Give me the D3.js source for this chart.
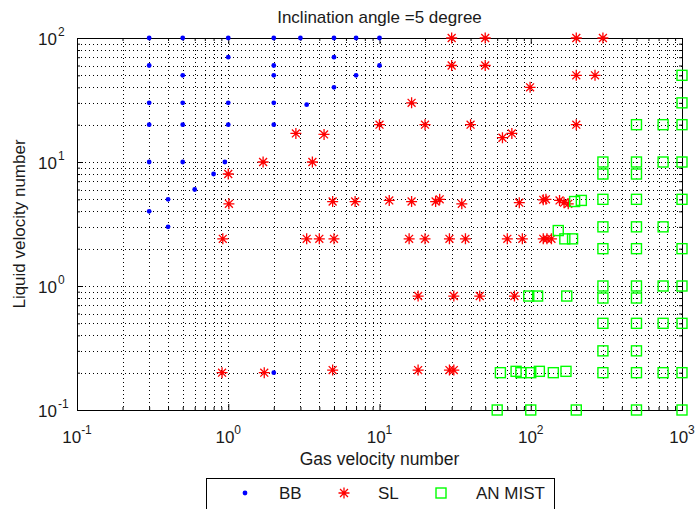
<!DOCTYPE html>
<html>
<head>
<meta charset="utf-8">
<script src="https://cdn.jsdelivr.net/npm/d3@7/dist/d3.min.js"></script>
<style>
body{margin:0;background:#fff}
text{font-family:"Liberation Sans",Arial,sans-serif;fill:#1a1a1a}
</style>
</head>
<body>
<svg id="chart" width="698" height="509"></svg>
<script>
// flow pattern points [gas velocity number, liquid velocity number]
var bbPoints = [[0.3,100],[0.3,60],[0.3,30],[0.3,20],[0.3,10],[0.3,4],
  [0.4,5],[0.4,3],[0.5,100],[0.5,50],[0.5,30],[0.5,20],[0.5,10],
  [0.6,6],[0.8,8],[0.95,10],[1,100],[1,70],[1,30],[1,20],
  [2,100],[2,60],[2,50],[2,30],[2,20],[2,0.2],[3,100],[3.3,29],
  [5,100],[5,70],[5,40],[7,100],[7,50],[10,100],[10,60]];
var slPoints = [[0.92,2.4],[0.91,0.2],[1,8],[1.01,4.6],[1.7,10],[1.73,0.2],
  [2.8,17],[3.6,10],[4.3,16.7],[3.3,2.4],[4,2.4],[5,2.4],
  [4.9,4.8],[6.9,4.8],[11.6,4.9],[16.3,4.8],[23.5,4.8],[25,5],[35,4.6],[4.9,0.21],
  [10,20],[16.3,30],[20,20],[40,20],
  [15.7,2.4],[20,2.4],[29,2.4],[37,2.4],[70,2.4],[88,2.4],[121,2.4],[128,2.4],[137,2.4],
  [18,0.83],[31,0.83],[46,0.83],[78,0.83],[18,0.21],[29,0.21],[31,0.21],
  [30,100],[50,100],[200,100],[300,100],[30,60],[50,60],
  [65,15.7],[75,17],[99,40],
  [84,4.7],[121,4.95],[126,5],[155,4.9],[166,4.7],[177,4.6],
  [200,50],[266,50],[200,20]];
var mistPoints = [[60,0.1],[100,0.1],[200,0.1],[500,0.1],[1000,0.1],
  [63,0.2],[80,0.205],[86,0.2],[100,0.2],[114,0.205],[141,0.2],[171,0.205],
  [300,0.2],[500,0.2],[750,0.2],[1000,0.2],
  [300,0.3],[500,0.3],[300,0.5],[500,0.5],[750,0.5],[1000,0.5],
  [97,0.83],[111,0.83],[173,0.83],[300,0.8],[500,0.8],
  [300,1],[500,1],[750,1],[1000,1],
  [152,2.8],[168,2.4],[189,2.4],[300,2],[500,2],[1000,2],
  [300,3],[500,3],[750,3],
  [195,4.8],[216,4.9],[300,5],[500,5],[1000,5],
  [300,8],[500,8],[300,10],[500,10],[750,10],[1000,10],
  [500,20],[750,20],[1000,20],[1000,30],[1000,50]];

var xMajor = [0.1,1,10,100,1000];
var xExp = ["-1","0","1","2","3"];
var yMajor = [0.1,1,10,100];
var yExp = ["-1","0","1","2"];
var legendNames = ["BB","SL","AN MIST"];
var titleText = "Inclination angle =5 degree";
var xLabel = "Gas velocity number";
var yLabel = "Liquid velocity number";

var L = 77, R = 682, T = 38, B = 410;
var svg = d3.select("#chart");
var x = d3.scaleLog().domain([0.1,1000]).range([L,R]);
var y = d3.scaleLog().domain([0.1,100]).range([B,T]);

function minors(lo, hi){
  var out = [];
  for (var e = lo; e < hi; e++)
    for (var m = 2; m <= 9; m++) out.push(m*Math.pow(10,e));
  return out;
}
var xMinor = minors(-1,3), yMinor = minors(-1,2);

// dotted grid
var grid = svg.append("g").attr("stroke","#000").attr("stroke-width",1)
  .attr("stroke-dasharray","1,3").attr("fill","none");
xMinor.concat(xMajor.slice(1,-1)).forEach(function(v){
  var px = Math.round(x(v))+0.5;
  grid.append("line").attr("x1",px).attr("x2",px).attr("y1",T).attr("y2",B);
});
yMinor.concat(yMajor.slice(1,-1)).forEach(function(v){
  var py = Math.round(y(v))+0.5;
  grid.append("line").attr("x1",L).attr("x2",R).attr("y1",py).attr("y2",py);
});

// axes with inward ticks on all four sides
function ax(gen, tx, ty, vals, size){
  svg.append("g").attr("transform","translate("+tx+","+ty+")")
    .call(gen.tickValues(vals).tickSizeInner(size).tickSizeOuter(0).tickFormat(""))
    .call(function(g){ g.selectAll("path,line").attr("stroke","#000"); });
}
[[xMinor,-3],[xMajor,-6]].forEach(function(p){
  ax(d3.axisBottom(x), 0, B, p[0], p[1]);
  ax(d3.axisTop(x), 0, T, p[0], p[1]);
});
[[yMinor,-3],[yMajor,-6]].forEach(function(p){
  ax(d3.axisLeft(y), L, 0, p[0], p[1]);
  ax(d3.axisRight(y), R, 0, p[0], p[1]);
});

// tick labels 10^n
xMajor.forEach(function(v,i){
  var t = svg.append("text").attr("x",x(v)).attr("y",443)
    .attr("text-anchor","middle").style("font-size","17px");
  t.append("tspan").text("10");
  t.append("tspan").attr("dy",-9).style("font-size","12px").text(xExp[i]);
});
yMajor.forEach(function(v,i){
  svg.append("text").attr("x",57).attr("y",y(v)+7)
    .attr("text-anchor","end").style("font-size","17px").text("10");
  svg.append("text").attr("x",58).attr("y",y(v)-2)
    .style("font-size","12px").text(yExp[i]);
});

svg.append("text").attr("x",(L+R)/2).attr("y",23).attr("text-anchor","middle")
  .style("font-size","17px").text(titleText);
svg.append("text").attr("x",(L+R)/2).attr("y",465).attr("text-anchor","middle")
  .style("font-size","17.5px").text(xLabel);
svg.append("text").attr("transform","translate(25,"+((T+B)/2)+") rotate(-90)")
  .attr("text-anchor","middle").style("font-size","17px").text(yLabel);

// markers
function star(s){
  var d = s*0.72;
  return "M"+(-s)+",0H"+s+"M0,"+(-s)+"V"+s+
    "M"+(-d)+","+(-d)+"L"+d+","+d+"M"+(-d)+","+d+"L"+d+","+(-d);
}
function drawBB(g){ g.append("circle").attr("r",2.4).attr("fill","#0000ff"); }
function drawSL(g){ g.append("path").attr("d",star(5.5)).attr("stroke","#ff0000")
  .attr("stroke-width",1.3).attr("fill","none"); }
function drawMist(g){ g.append("rect").attr("x",-5).attr("y",-5).attr("width",10).attr("height",10)
  .attr("fill","none").attr("stroke","#00ff00").attr("stroke-width",1.4); }

var series = [[bbPoints,drawBB],[slPoints,drawSL],[mistPoints,drawMist]];
series.forEach(function(s){
  svg.append("g").selectAll("g").data(s[0]).join("g")
    .attr("transform",function(d){ return "translate("+x(d[0])+","+y(d[1])+")"; })
    .each(function(){ s[1](d3.select(this)); });
});

// legend
var lg = svg.append("g");
lg.append("rect").attr("x",206.5).attr("y",478.5).attr("width",348).attr("height",40)
  .attr("fill","#fff").attr("stroke","#000");
var lgMark = [245,344,441], lgText = [279,378,476];
legendNames.forEach(function(n,i){
  var g = lg.append("g").attr("transform","translate("+lgMark[i]+",493)");
  series[i][1](g);
  lg.append("text").attr("x",lgText[i]).attr("y",499).style("font-size","17px").text(n);
});
</script>
</body>
</html>
